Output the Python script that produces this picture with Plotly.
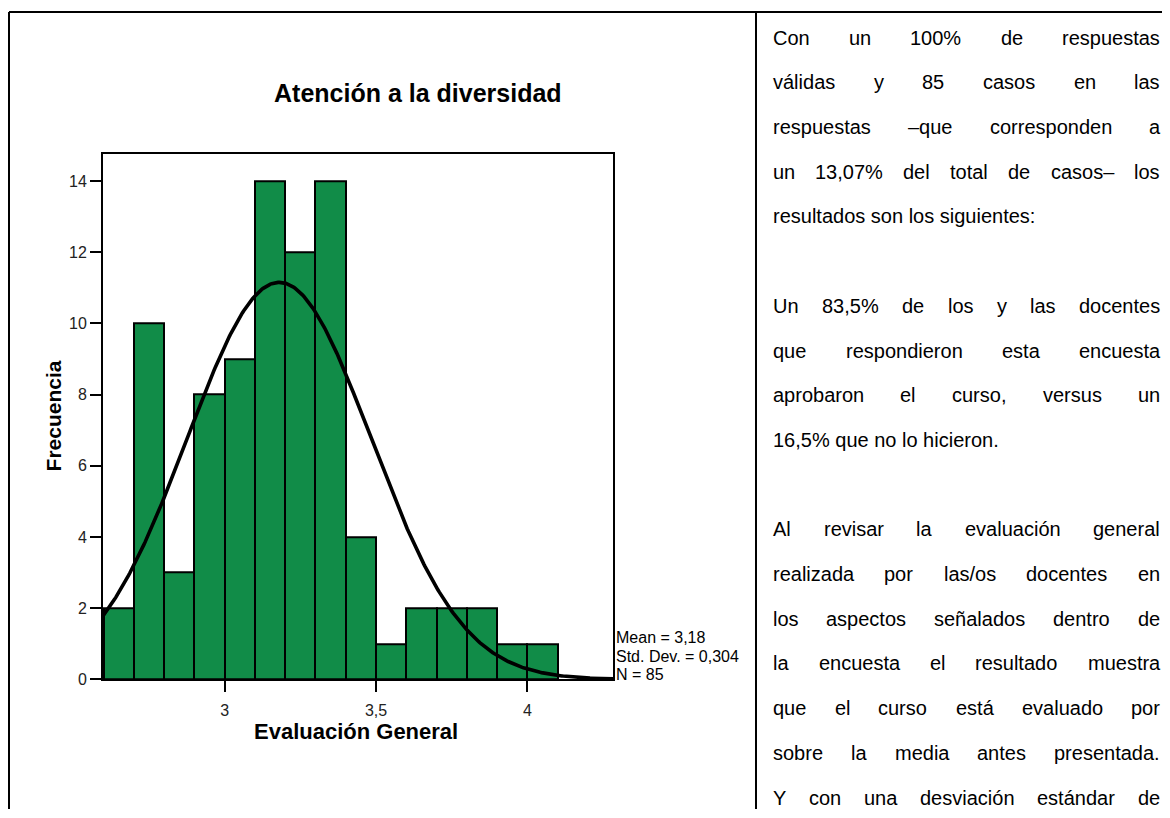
import numpy as np
import plotly.graph_objects as go

# la página tiene 8 px de margen arriba/izquierda
OFF = 8
W, H = 1170 - OFF, 818 - OFF
FONT = "Liberation Sans, Arial, sans-serif"

# ── Datos del histograma ────────────────────────────────
bin_start  = [2.6, 2.7, 2.8, 2.9, 3.0, 3.1, 3.2, 3.3, 3.4, 3.5, 3.6, 3.7, 3.8, 3.9, 4.0]
frecuencia = [2, 10, 3, 8, 9, 14, 12, 14, 4, 1, 2, 2, 2, 1, 1]
bin_width  = 0.1

media, desv, n_casos = 3.18, 0.304, 85

x_ticks  = [3, 3.5, 4]
y_ticks  = [0, 2, 4, 6, 8, 10, 12, 14]
x_range  = [2.598, 4.283]
y_range  = [0, 14.75]

titulo   = "Atención a la diversidad"
titulo_x = "Evaluación General"
titulo_y = "Frecuencia"

# texto de la celda derecha (J = justificado, L = izquierda)
texto = [
    ("Con un 100% de respuestas", "J"),
    ("válidas y 85 casos en las", "J"),
    ("respuestas –que corresponden a", "J"),
    ("un 13,07% del total de casos– los", "J"),
    ("resultados son los siguientes:", "L"),
    ("", "L"),
    ("Un 83,5% de los y las docentes", "J"),
    ("que respondieron esta encuesta", "J"),
    ("aprobaron el curso, versus un", "J"),
    ("16,5% que no lo hicieron.", "L"),
    ("", "L"),
    ("Al revisar la evaluación general", "J"),
    ("realizada por las/os docentes en", "J"),
    ("los aspectos señalados dentro de", "J"),
    ("la encuesta el resultado muestra", "J"),
    ("que el curso está evaluado por", "J"),
    ("sobre la media antes presentada.", "J"),
    ("Y con una desviación estándar de", "J"),
]

# anchos de Arial / Liberation Sans (por 1000 unidades)
ANCHOS = {" ": 278, "a": 556, "á": 556, "b": 556, "c": 500, "d": 556, "e": 556,
          "é": 556, "g": 556, "h": 556, "i": 222, "í": 222, "l": 222, "m": 833,
          "n": 556, "ñ": 556, "o": 556, "ó": 556, "p": 556, "q": 556, "r": 333,
          "s": 500, "t": 278, "u": 556, "v": 500, "y": 500, "z": 500, "A": 667,
          "C": 722, "U": 722, "Y": 667, "%": 889, ",": 278, ".": 278, "/": 278,
          ":": 278, "–": 556}


def ancho(s, size):
    return sum(ANCHOS.get(ch, 556) for ch in s) * size / 1000


# coordenadas de pantalla -> paper
def px(x):
    return (x - OFF) / W


def py(y):
    return 1 - (y - OFF) / H


def coma(v, dec):
    return f"{v:.{dec}f}".replace(".", ",")


# ── Figura ───────────────────────────────────────────────
fig = go.Figure()

fig.add_trace(go.Bar(
    x=[b + bin_width / 2 for b in bin_start], y=frecuencia, width=bin_width,
    marker=dict(color="#118C48", line=dict(color="black", width=2)),
    hoverinfo="skip"
))

# curva normal con la media y desviación del gráfico
xs = np.linspace(x_range[0], x_range[1], 400)
ys = n_casos * bin_width / (desv * np.sqrt(2 * np.pi)) * np.exp(-0.5 * ((xs - media) / desv) ** 2)
fig.add_trace(go.Scatter(x=xs, y=ys, mode="lines",
                         line=dict(color="black", width=3.6), hoverinfo="skip"))

ann = []
ann.append(dict(x=px(273), y=py(94), text=f"<b>{titulo}</b>", xanchor="left", yanchor="middle",
                font=dict(size=25, color="black", family=FONT)))
ann.append(dict(x=px(356), y=py(740), text=f"<b>{titulo_x}</b>", xanchor="center", yanchor="middle",
                font=dict(size=22, color="black", family=FONT)))
ann.append(dict(x=px(53), y=py(421), text=f"<b>{titulo_y}</b>", xanchor="center", yanchor="middle",
                textangle=-90, font=dict(size=21, color="black", family=FONT)))

stats = [f"Mean = {coma(media, 2)}",
         f"Std. Dev. = {coma(desv, 3)}",
         f"N = {n_casos}"]
for i, s in enumerate(stats):
    ann.append(dict(x=px(615), y=py(645 + i * 18.5), text=s, xanchor="left", yanchor="middle",
                    font=dict(size=16, color="black", family=FONT)))

# texto justificado
L, R, SIZE = 772, 1159, 20
for i, (linea, modo) in enumerate(texto):
    if not linea:
        continue
    yy = py(38 + i * 45.2)
    if modo == "L":
        ann.append(dict(x=px(L), y=yy, text=linea, xanchor="left", yanchor="middle",
                        font=dict(size=SIZE, color="black", family=FONT)))
        continue
    palabras = linea.split(" ")
    total = sum(ancho(p, SIZE) for p in palabras)
    hueco = (R - L - total) / (len(palabras) - 1)
    x = L
    for p in palabras:
        ann.append(dict(x=px(x), y=yy, text=p, xanchor="left", yanchor="middle",
                        font=dict(size=SIZE, color="black", family=FONT)))
        x += ancho(p, SIZE) + hueco

for a in ann:
    a.update(xref="paper", yref="paper", showarrow=False, borderpad=0)

# bordes de la tabla
shapes = [
    dict(type="line", x0=px(9), x1=1, y0=py(12), y1=py(12)),
    dict(type="line", x0=px(9), x1=px(9), y0=py(12), y1=0),
    dict(type="line", x0=px(756), x1=px(756), y0=py(12), y1=0),
]
for s in shapes:
    s.update(xref="paper", yref="paper", line=dict(color="black", width=2))

eje = dict(showgrid=False, zeroline=False, showline=True, mirror=True,
           linecolor="black", linewidth=2, ticks="outside", ticklen=11,
           tickwidth=1.5, tickcolor="black",
           tickfont=dict(size=16, color="#222", family=FONT))

fig.update_layout(
    width=W, height=H,
    margin=dict(l=0, r=0, t=0, b=0),
    paper_bgcolor="white", plot_bgcolor="white",
    showlegend=False, separators=",.",
    annotations=ann, shapes=shapes,
    bargap=0,
    xaxis=dict(domain=[px(103), px(613)], range=x_range, tickvals=x_ticks,
               ticklabelstandoff=4, **eje),
    yaxis=dict(domain=[py(687), py(156)], range=y_range, tickvals=y_ticks, **eje),
)

fig.write_html("out.html", config={"displayModeBar": False})
